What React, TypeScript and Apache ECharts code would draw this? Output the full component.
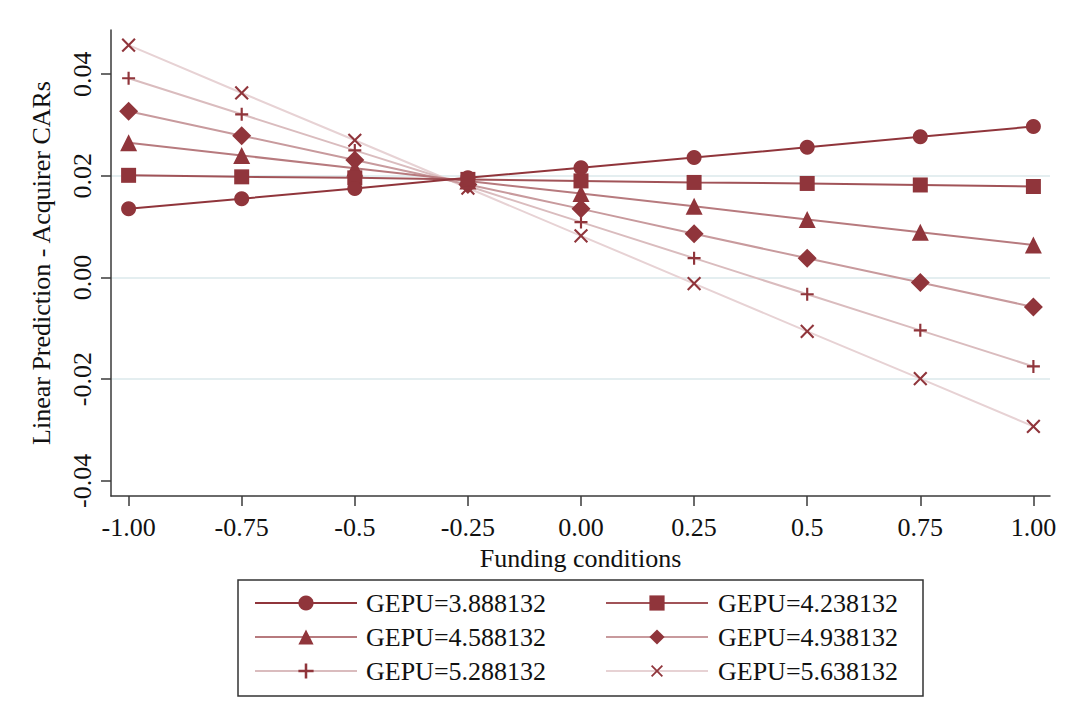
import React, { useEffect, useRef } from "react";
import * as echarts from "echarts";

const xValues = [-1, -0.75, -0.5, -0.25, 0, 0.25, 0.5, 0.75, 1];
const xTicks = [-1, -0.75, -0.5, -0.25, 0, 0.25, 0.5, 0.75, 1];
const xTickLabels = ["-1.00", "-0.75", "-0.5", "-0.25", "0.00", "0.25", "0.5", "0.75", "1.00"];
const yTicks = [-0.04, -0.02, 0, 0.02, 0.04];
const yTickLabels = ["-0.04", "-0.02", "0.00", "0.02", "0.04"];

const seriesNames = [
  "GEPU=3.888132",
  "GEPU=4.238132",
  "GEPU=4.588132",
  "GEPU=4.938132",
  "GEPU=5.288132",
  "GEPU=5.638132",
];

const gepu1 = [0.0135, 0.0155, 0.0175, 0.0196, 0.0216, 0.0236, 0.0256, 0.0277, 0.0297];
const gepu2 = [0.0201, 0.0198, 0.0196, 0.0193, 0.019, 0.0187, 0.0185, 0.0182, 0.0179];
const gepu3 = [0.0265, 0.024, 0.0215, 0.019, 0.0165, 0.014, 0.0114, 0.0089, 0.0064];
const gepu4 = [0.0327, 0.0279, 0.0231, 0.0183, 0.0135, 0.0086, 0.0038, -0.001, -0.0058];
const gepu5 = [0.0392, 0.0321, 0.025, 0.018, 0.0109, 0.0038, -0.0033, -0.0104, -0.0175];
const gepu6 = [0.0457, 0.0363, 0.027, 0.0176, 0.0082, -0.0012, -0.0106, -0.0199, -0.0293];

const allSeries = [gepu1, gepu2, gepu3, gepu4, gepu5, gepu6];

const markerColor = "#90353B";
const lineColors = ["#90353B", "#A15358", "#B77A7E", "#C89A9D", "#DABCBE", "#E7D2D4"];
const plusPath =
  "path://M-1,-6L1,-6L1,-1L6,-1L6,1L1,1L1,6L-1,6L-1,1L-6,1L-6,-1L-1,-1Z";
const xPath =
  "path://M-0.7,-6L0.7,-6L0.7,-0.7L6,-0.7L6,0.7L0.7,0.7L0.7,6L-0.7,6L-0.7,0.7L-6,0.7L-6,-0.7L-0.7,-0.7Z";
const symbols = ["circle", "rect", "triangle", "diamond", plusPath, xPath];
const symbolSizes = [15, 15, 17, 19, 13, 18];
const symbolRotates = [0, 0, 0, 0, 0, 45];

const FONT = "'Liberation Serif', 'Times New Roman', serif";

export default function App() {
  const ref = useRef<HTMLDivElement>(null);
  useEffect(() => {
    if (!ref.current) return;
    const chart = echarts.init(ref.current, null, { renderer: "svg" });
    const series = allSeries.map((vals, i) => ({
      name: seriesNames[i],
      type: "line",
      data: vals.map((v, j) => [xValues[j], v]),
      symbol: symbols[i],
      symbolSize: symbolSizes[i],
      symbolRotate: symbolRotates[i],
      showAllSymbol: true,
      lineStyle: { color: lineColors[i], width: 2 },
      itemStyle: { color: markerColor },
      z: 2 + (5 - i),
    }));
    chart.setOption({
      animation: false,
      backgroundColor: "#ffffff",
      textStyle: { fontFamily: FONT },
      grid: { left: 111, top: 30, width: 939, height: 466, containLabel: false },
      xAxis: {
        type: "value",
        min: -1.0389,
        max: 1.0367,
        name: "Funding conditions",
        nameLocation: "middle",
        nameGap: 49,
        nameTextStyle: { fontFamily: FONT, fontSize: 26, color: "#111" },
        axisLine: { show: true, onZero: false, lineStyle: { color: "#3a3a3a", width: 1.5 } },
        axisTick: { show: true, customValues: xTicks, length: 10, lineStyle: { color: "#3a3a3a", width: 1.5 } },
        axisLabel: {
          customValues: xTicks,
          margin: 18,
          fontFamily: FONT,
          fontSize: 26,
          color: "#111",
          formatter: (v: number) => {
            const idx = xTicks.findIndex((t) => Math.abs(t - v) < 1e-9);
            return idx >= 0 ? xTickLabels[idx] : "";
          },
        },
        splitLine: { show: false },
      },
      yAxis: {
        type: "value",
        min: -0.04299,
        max: 0.04869,
        name: "Linear Prediction - Acquirer CARs",
        nameLocation: "middle",
        nameGap: 57,
        nameRotate: 90,
        nameTextStyle: { fontFamily: FONT, fontSize: 26, color: "#111" },
        axisLine: { show: true, onZero: false, lineStyle: { color: "#3a3a3a", width: 1.5 } },
        axisTick: { show: true, customValues: yTicks, length: 10, lineStyle: { color: "#3a3a3a", width: 1.5 } },
        axisLabel: {
          customValues: yTicks,
          rotate: 90,
          margin: 16,
          fontFamily: FONT,
          fontSize: 26,
          color: "#111",
          formatter: (v: number) => {
            const idx = yTicks.findIndex((t) => Math.abs(t - v) < 1e-9);
            return idx >= 0 ? yTickLabels[idx] : "";
          },
        },
        splitLine: {
          show: true,
          showMinLine: false,
          showMaxLine: false,
          lineStyle: { color: "#e4eef0", width: 2 },
        },
      },
      legend: [
        {
          data: [seriesNames[0], seriesNames[2], seriesNames[4]],
          orient: "vertical",
          left: 249,
          top: 585,
          itemWidth: 102,
          itemHeight: 19,
          itemGap: 8,
          selectedMode: false,
          textStyle: { fontFamily: FONT, fontSize: 26, color: "#111", padding: [0, 0, 0, 4] },
        },
        {
          data: [seriesNames[1], seriesNames[3], seriesNames[5]],
          orient: "vertical",
          left: 600,
          top: 585,
          itemWidth: 102,
          itemHeight: 19,
          itemGap: 8,
          selectedMode: false,
          textStyle: { fontFamily: FONT, fontSize: 26, color: "#111", padding: [0, 0, 0, 5] },
        },
      ],
      graphic: [
        {
          type: "rect",
          shape: { x: 238, y: 580, width: 685, height: 116 },
          style: { fill: "none", stroke: "#333", lineWidth: 1.5 },
          silent: true,
        },
      ],
      series,
    });
    return () => chart.dispose();
  }, []);
  return (
    <div
      ref={ref}
      style={{ position: "fixed", left: 0, top: 0, width: 1067, height: 728, background: "#fff" }}
    />
  );
}
